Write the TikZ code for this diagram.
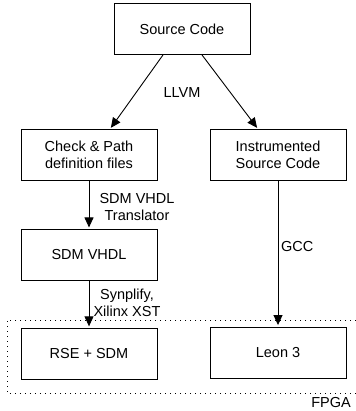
\documentclass[tikz,border=0pt]{standalone}
\usepackage{fontspec}
\setmainfont{Liberation Sans}
\usetikzlibrary{arrows.meta,positioning}
\tikzset{
  box/.style={draw, line width=0.9pt, minimum width=136pt, minimum height=51pt, align=center, inner sep=0pt},
  lbl/.style={align=center, inner sep=0pt},
  line/.style={-{Triangle[length=10pt,width=9pt]}, line width=0.9pt, shorten >=1.5pt}
}

\begin{document}
\begin{tikzpicture}[x=1pt, y=-1pt, font=\fontsize{14.5}{16.5}\selectfont]
  \useasboundingbox (0,0) rectangle (355,411);

  \node[box] (src) at (182,29) {Source Code};
  \node[box] (chk) at (89,155) {Check \& Path\\definition files};
  \node[box] (ins) at (278,155) {Instrumented\\Source Code};
  \node[box, below=48pt of chk] (vhdl) {SDM VHDL};
  \node[box, below=47pt of vhdl] (rse) {RSE + SDM};
  \node[box] (leon) at (278,352.5) {Leon 3};

  % tool labels
  \node[lbl] (llvm) at (182,93) {LLVM};
  \node[lbl] (trans) at (137,207) {SDM VHDL\\Translator};
  \node[lbl] (synth) at (127,303) {Synplify,\\Xilinx XST};
  \node[lbl, anchor=west] (gcc) at (281,247) {GCC};

  \draw[line] ([xshift=-19pt]src.south) -- ([xshift=21pt]chk.north);
  \draw[line] ([xshift=20pt]src.south) -- ([xshift=-20pt]ins.north);
  \draw[line] (chk) -- (vhdl);
  \draw[line] (vhdl) -- (rse);
  \draw[line] (ins) -- (leon);

  % fpga region
  \coordinate (fpgaNE) at (356,320);
  \coordinate (fpgaSE) at (356,393);
  \draw[line width=0.9pt, dash pattern=on 1.2pt off 3.8pt] (fpgaNE) -| (7,393) -- (fpgaSE);
  \node[lbl, anchor=east] (fpga) at (351,403) {FPGA};
\end{tikzpicture}
\end{document}
